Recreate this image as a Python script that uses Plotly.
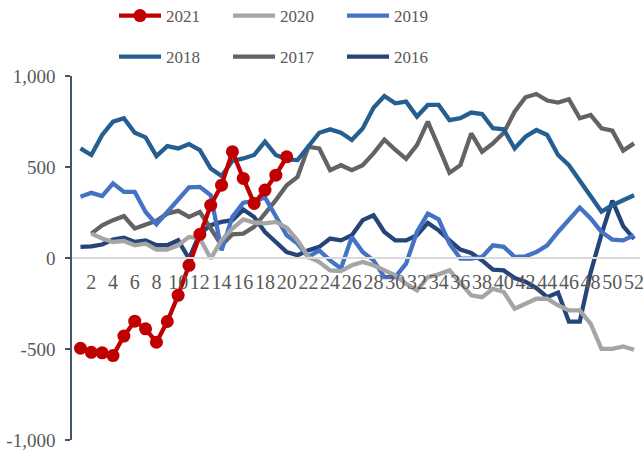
import plotly.graph_objects as go

# Weekly values, weeks 1-52
weeks = list(range(1, 53))
tick_weeks = list(range(2, 53, 2))
tick_week_labels = [str(w) for w in tick_weeks]

y_tick_vals = [-1000, -500, 0, 500, 1000]
y_tick_labels = ["-1,000", "-500", "0", "500", "1,000"]

v2021 = [-496, -518, -521, -536, -429, -347, -389, -463, -349, -205,
         -40, 130, 290, 400, 584, 437, 300, 373, 455, 556]

v2020 = [None,
         134, 107, 88, 94, 70, 79, 46, 46, 70, 116,
         107, -3, 97, 162, 212, 195, 190, 198, 167, 97,
         6, -22, -68, -72, -40, -22, -40, -68, -95, -141,
         -178, -105, -90, -68, -141, -205, -215, -169, -187, -279,
         -251, -224, -224, -260, -288, -288, -361, -499, -499, -486, -504]

v2019 = [336, 358, 340, 410, 363, 363, 253, 186, 253, 318,
         388, 391, 345, 42, 226, 304, 313, 333, 226, 125,
         79, 6, 42, -13, -58, 116, 33, -13, -105, -105,
         -31, 143, 244, 212, 79, -3, -3, 6, 70, 61,
         6, 9, 33, 70, 143, 208, 277, 217, 143, 101, 97, 125]

v2018 = [602, 566, 676, 749, 768, 688, 663, 560, 615, 602,
         626, 593, 492, 450, 534, 547, 566, 639, 566, 542,
         538, 615, 688, 707, 688, 648, 712, 825, 890, 850,
         859, 777, 841, 841, 758, 768, 799, 791, 713, 707,
         602, 666, 703, 676, 566, 510, 428, 345, 255, 290, 318, 345]

v2017 = [None,
         134, 180, 208, 230, 162, 186, 204, 244, 259, 226,
         253, 162, 70, 130, 134, 171, 244, 318, 400, 446,
         611, 602, 483, 510, 483, 510, 575, 650, 595, 545,
         620, 749, 611, 468, 510, 685, 584, 630, 688, 804,
         883, 901, 865, 854, 872, 768, 786, 713, 700, 590, 630]

v2016 = [61, 64, 74, 101, 112, 88, 97, 70, 70, 97,
         -3, 134, 180, 198, 208, 266, 225, 143, 88, 33,
         15, 42, 61, 107, 97, 125, 208, 235, 143, 97,
         97, 125, 193, 152, 97, 46, 28, -13, -64, -68,
         -110, -130, -165, -215, -190, -350, -350, -80, 130, 315, 175, 105]

colors = {
    "2021": "#c00000",
    "2020": "#a5a5a5",
    "2019": "#4472c4",
    "2018": "#255e91",
    "2017": "#636363",
    "2016": "#264478",
}

FONT = "Liberation Serif, Times New Roman, serif"
TEXT = "#595959"

fig = go.Figure()

# (name, values, legend, rank) drawn bottom to top
layers = [
    ("2016", v2016, "legend2", 6),
    ("2017", v2017, "legend2", 5),
    ("2018", v2018, "legend2", 4),
    ("2019", v2019, "legend", 3),
    ("2020", v2020, "legend", 2),
]
for name, vals, leg, rank in layers:
    fig.add_trace(go.Scatter(
        x=weeks[:len(vals)], y=vals, name=name, mode="lines",
        line=dict(color=colors[name], width=4.3),
        legend=leg, legendrank=rank, connectgaps=False,
    ))

fig.add_trace(go.Scatter(
    x=weeks[:len(v2021)], y=v2021, name="2021", mode="lines+markers",
    line=dict(color=colors["2021"], width=4.3),
    marker=dict(color=colors["2021"], size=13, line=dict(width=0)),
    legend="legend", legendrank=1,
))

legend_common = dict(
    orientation="h",
    xref="container", yref="container",
    xanchor="left", yanchor="middle",
    font=dict(family=FONT, size=17, color=TEXT),
    bgcolor="rgba(0,0,0,0)",
    entrywidth=57, entrywidthmode="pixels",
    itemwidth=42,
    traceorder="normal",
)

fig.update_layout(
    width=644, height=455,
    margin=dict(l=72, r=4, t=76, b=15, autoexpand=False),
    paper_bgcolor="white", plot_bgcolor="white",
    font=dict(family=FONT, color=TEXT),
    legend=dict(legend_common, x=114 / 644, y=1 - 16 / 455),
    legend2=dict(legend_common, x=114 / 644, y=1 - 57 / 455),
    xaxis=dict(
        range=[0.22, 52.55],
        tickmode="array", tickvals=tick_weeks, ticktext=tick_week_labels,
        tickfont=dict(family=FONT, size=20, color=TEXT),
        tickangle=0, ticklabeloverflow="allow",
        showgrid=False, zeroline=False,
        showline=True, linecolor="#d9d9d9", linewidth=1.5,
        ticks="outside", ticklen=6, tickcolor="rgba(0,0,0,0)",
        anchor="free", position=0.5,
    ),
    yaxis=dict(
        range=[-1000, 1000],
        tickmode="array", tickvals=y_tick_vals, ticktext=y_tick_labels,
        tickfont=dict(family=FONT, size=19, color=TEXT),
        showgrid=False, zeroline=False,
        showline=True, linecolor="#44546a", linewidth=1.5,
        ticks="outside", ticklen=5, tickcolor="#44546a", tickwidth=1.5,
        ticklabelstandoff=6,
    ),
)

fig.write_html("out.html")
